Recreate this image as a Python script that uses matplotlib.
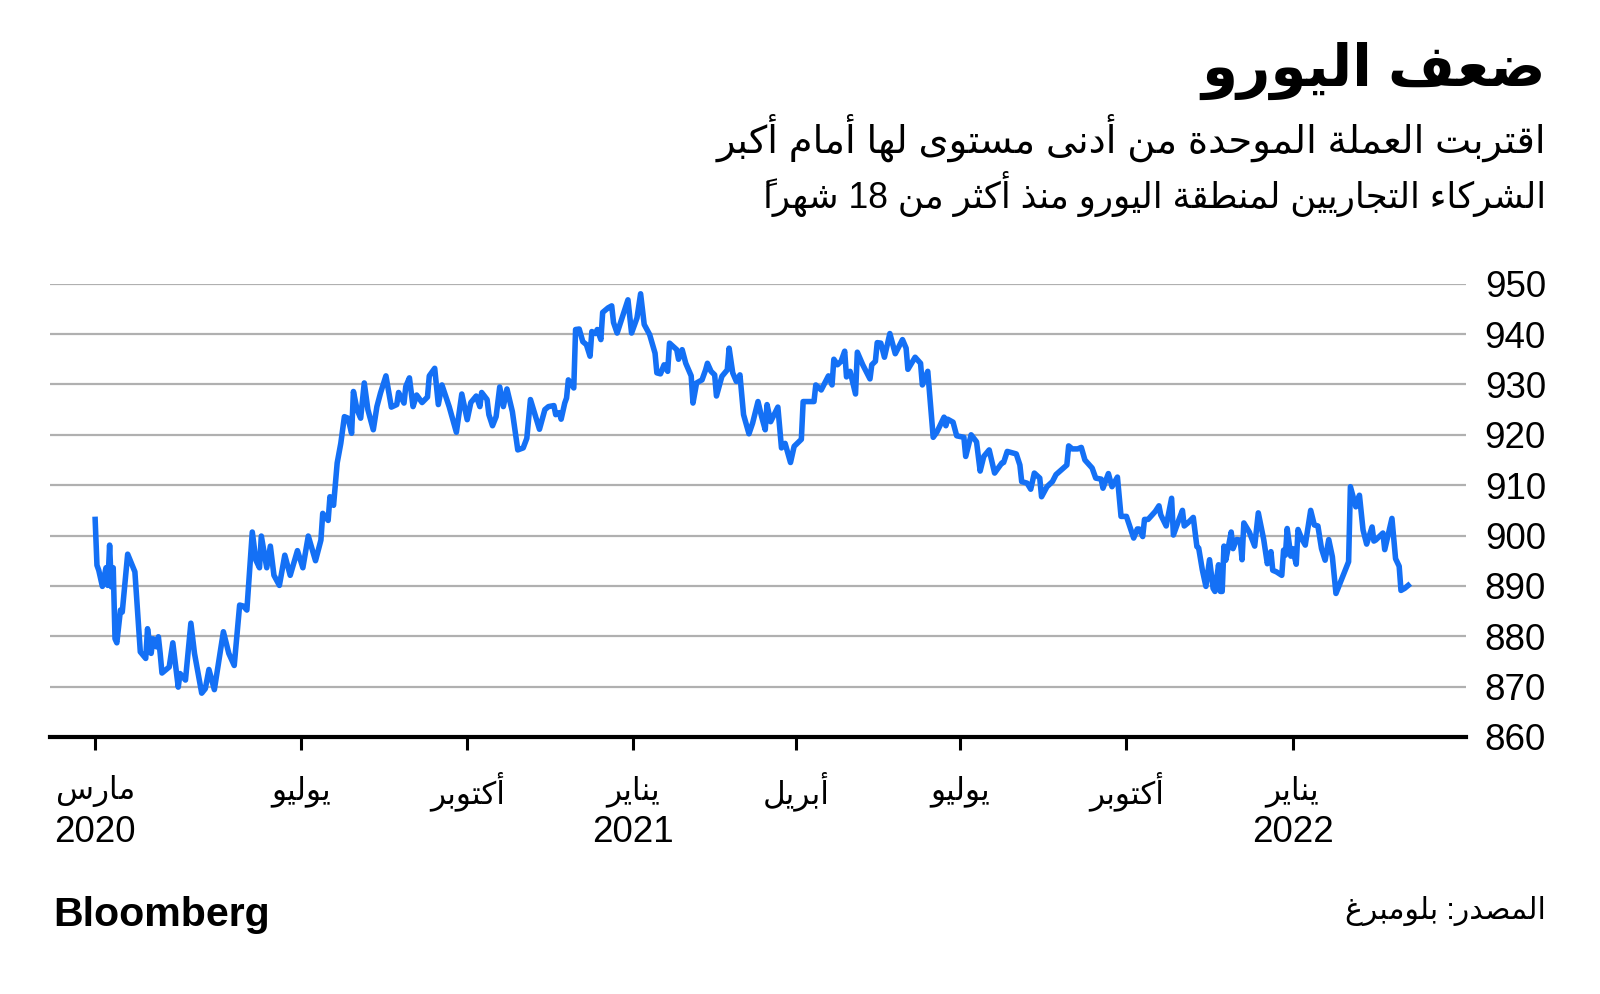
import numpy as np
import matplotlib
matplotlib.use('Agg')
import matplotlib.pyplot as plt

# --- minimal arabic shaping (matplotlib has no bidi / joining support) ---
# letter -> (isolated form code, dual joining?)  None = never joins
FORMS = {
    'ء': (0xFE80, None), 'آ': (0xFE81, False), 'أ': (0xFE83, False), 'إ': (0xFE87, False),
    'ا': (0xFE8D, False), 'ب': (0xFE8F, True), 'ة': (0xFE93, False), 'ت': (0xFE95, True),
    'ث': (0xFE99, True), 'ج': (0xFE9D, True), 'ح': (0xFEA1, True), 'خ': (0xFEA5, True),
    'د': (0xFEA9, False), 'ذ': (0xFEAB, False), 'ر': (0xFEAD, False), 'ز': (0xFEAF, False),
    'س': (0xFEB1, True), 'ش': (0xFEB5, True), 'ص': (0xFEB9, True), 'ض': (0xFEBD, True),
    'ط': (0xFEC1, True), 'ظ': (0xFEC5, True), 'ع': (0xFEC9, True), 'غ': (0xFECD, True),
    'ف': (0xFED1, True), 'ق': (0xFED5, True), 'ك': (0xFED9, True), 'ل': (0xFEDD, True),
    'م': (0xFEE1, True), 'ن': (0xFEE5, True), 'ه': (0xFEE9, True), 'و': (0xFEED, False),
    'ى': (0xFEEF, False), 'ي': (0xFEF1, True),
}
LAMALEF = {'آ': 0xFEF5, 'أ': 0xFEF7, 'إ': 0xFEF9, 'ا': 0xFEFB}


def shape(text):
    out = []
    i = 0
    n = len(text)
    while i < n:
        c = text[i]
        if c not in FORMS:
            out.append(c)
            i += 1
            continue
        base, dual = FORMS[c]
        prev = text[i - 1] if i > 0 else ''
        nxt = text[i + 1] if i + 1 < n else ''
        jp = dual is not None and prev in FORMS and FORMS[prev][1] is True
        if c == 'ل' and nxt in LAMALEF:
            out.append(chr(LAMALEF[nxt] + (1 if jp else 0)))
            i += 2
            continue
        jn = dual is True and nxt in FORMS and FORMS[nxt][1] is not None
        if dual is None:
            code = base
        elif jp and jn:
            code = base + 3
        elif jn:
            code = base + 2
        elif jp:
            code = base + 1
        else:
            code = base
        out.append(chr(code))
        i += 1
    return ''.join(out)


def ar(text):
    # reverse for display, keeping digit runs left to right
    tokens = []
    for ch in shape(text):
        if tokens and ch.isdigit() and tokens[-1][-1].isdigit():
            tokens[-1] += ch
        else:
            tokens.append(ch)
    return ''.join(reversed(tokens))


# --- data (trade-weighted euro index) ---
start = np.datetime64('2020-03-09')
day = [0, 1, 2, 4, 6, 7, 8, 9, 10, 11, 12, 14, 15, 18, 22, 25, 28, 29, 31, 32,
       34, 35, 36, 37, 41, 43, 46, 47, 50, 53, 55, 59, 61, 63, 66, 71, 74, 77, 80, 82,
       84, 87, 89, 91, 92, 95, 97, 99, 102, 105, 108, 112, 115, 118, 122, 125, 126, 129, 130, 132,
       134, 136, 138, 140, 142, 143, 145, 147, 149, 151, 154, 156, 158, 161, 164, 167, 168, 171, 172, 174,
       176, 178, 181, 184, 185, 188, 190, 192, 196, 200, 203, 206, 208, 211, 213, 214, 217, 218, 220, 222,
       224, 226, 228, 231, 234, 237, 239, 241, 246, 249, 251, 254, 255, 257,
       258, 260, 261, 262, 265, 266, 268, 270, 272, 274, 275, 277, 278, 280, 281, 284, 286, 287, 289, 292,
       295, 297, 300, 302, 304, 307, 310, 311, 313, 315, 317, 318, 322, 323, 325, 327, 330, 331, 333, 336,
       338, 339, 341, 343, 344, 347, 350, 351, 353, 355, 357, 359, 362, 364, 367, 369, 371, 372, 374, 378,
       380, 382, 385, 387, 391,
       392, 398, 399, 402, 406, 408, 409, 411, 413, 415, 416, 418, 421, 422, 425, 429, 430, 432, 433, 435,
       437, 440, 443, 447, 449, 450, 454, 457, 458, 461, 464, 466, 470, 471, 472, 475, 477, 481, 482, 485,
       488, 490, 492, 495, 498, 502, 503, 505, 510, 512, 513, 516, 518, 520, 523, 524,
       527, 530, 532, 538, 539, 541, 544, 546, 548, 552, 554, 557, 558, 561, 563, 566, 568, 571, 575, 577,
       578, 580, 581, 583, 587, 589, 590, 593, 596, 597, 600, 602, 603, 605, 608, 610, 611, 613, 615, 617,
       619, 620, 622, 623, 624,
       625, 626, 629, 630, 632, 634, 635, 636, 639, 642, 644, 647, 649, 651, 652, 654, 657, 658, 659, 660,
       662, 663, 665, 666, 668, 670, 673, 675, 677, 679, 681, 683, 685, 687, 694, 695, 698, 700, 702, 704,
       707, 708, 709, 713, 714, 718, 720, 722, 723, 725, 727]
index_val = [903.2, 894.1, 893.1, 889.9, 893.6, 890.1, 898.1, 889.8, 893.6, 879.5,
             878.7, 885.2, 884.8, 896.3, 892.8, 876.9, 875.6, 881.5, 876.6, 879.5,
             877.9, 879.9, 876.6, 872.7, 873.9, 878.7, 869.9, 872.6, 871.3, 882.6,
             876.6, 868.7, 869.6, 873.4, 869.4, 880.9, 876.6, 874.2, 886.2, 886.0,
             885.2, 900.7, 895.1, 893.6, 899.9, 893.6, 897.9, 892.1, 890.1, 896.1,
             892.1, 897.0, 893.6, 899.9, 895.0, 899.1, 904.4, 903.0, 907.7, 906.0,
             914.4, 918.3, 923.6, 923.3, 920.3, 928.6, 925.0, 923.3, 930.3, 925.0,
             921.0, 925.6, 928.3, 931.7, 925.5, 926.0, 928.4, 926.3, 929.6, 931.3,
             925.6, 927.9, 926.4, 927.5, 931.7, 933.2, 926.0, 929.9, 925.6, 920.5,
             928.1, 923.0, 926.4, 927.7, 925.6, 928.4, 927.0, 924.0, 921.8, 923.6,
             929.5, 925.6, 929.1, 924.6, 917.0, 917.4, 919.3, 927.0, 921.1, 925.0,
             925.6, 925.8, 924.0, 924.4,
             923.1, 926.3, 927.3, 930.9, 929.3, 940.9, 941.0, 938.5, 937.9, 935.6,
             940.5, 940.1, 940.9, 938.9, 944.3, 945.2, 945.6, 942.3, 940.2, 943.5,
             946.8, 940.2, 943.2, 948.0, 941.9, 939.9, 936.2, 932.3, 932.1, 933.9,
             932.6, 938.2, 936.9, 935.0, 936.9, 934.2, 931.7, 926.3, 930.3, 930.9,
             932.9, 934.2, 932.6, 931.9, 927.7, 931.6, 932.9, 937.2, 932.3, 930.6,
             931.9, 924.0, 920.2, 922.3, 926.6, 923.6, 921.0, 926.0, 922.6, 925.5,
             917.4, 918.3, 914.5, 917.7, 919.1,
             926.6, 926.6, 929.9, 928.9, 931.7, 929.9, 935.0, 933.9, 934.6, 936.6,
             931.5, 932.6, 928.1, 936.4, 933.9, 931.1, 933.9, 934.6, 938.3, 938.2,
             935.4, 940.1, 936.1, 938.9, 937.2, 933.0, 935.4, 934.2, 929.9, 932.6,
             919.5, 920.5, 923.5, 921.8, 923.1, 922.5, 919.8, 919.5, 915.7, 920.0,
             918.6, 912.8, 915.7, 917.0, 912.4, 914.4, 914.5, 916.7, 916.2, 914.0,
             910.7, 910.4, 909.2, 912.4, 911.4, 907.7,
             909.7, 910.7, 912.1, 914.0, 917.8, 917.2, 917.2, 917.5, 915.0, 913.4,
             911.4, 911.2, 909.4, 912.3, 909.7, 911.6, 903.8, 903.8, 899.5, 901.3,
             901.3, 899.8, 903.2, 903.2, 904.8, 905.9, 904.1, 901.9, 907.4, 900.1,
             903.1, 905.0, 901.9, 902.5, 903.6, 897.8, 897.5, 893.2, 889.9, 895.2,
             889.5, 888.9, 894.2, 888.9, 888.9,
             897.9, 895.1, 900.7, 897.4, 899.2, 899.1, 895.2, 902.5, 900.7, 897.9,
             904.5, 899.2, 894.4, 896.8, 893.1, 892.8, 892.1, 897.1, 896.1, 901.4,
             895.9, 897.4, 894.3, 901.2, 899.4, 898.1, 905.0, 902.1, 901.9, 897.4,
             895.1, 899.2, 895.8, 888.5, 894.8, 909.7, 905.7, 908.0, 901.1, 898.3,
             901.7, 898.9, 899.1, 900.5, 897.2, 903.4, 895.4, 893.9, 889.1, 889.5,
             890.1]

tick_dates = ['2020-03-09', '2020-07-01', '2020-10-01', '2021-01-01',
              '2021-04-01', '2021-07-01', '2021-10-01', '2022-01-01']
tick_months = ['مارس', 'يوليو', 'أكتوبر', 'يناير', 'أبريل', 'يوليو', 'أكتوبر', 'يناير']
tick_years = ['2020', '', '', '2021', '', '', '', '2022']
y_ticks = [860, 870, 880, 890, 900, 910, 920, 930, 940, 950]

title = 'ضعف اليورو'
subtitle = ['اقتربت العملة الموحدة من أدنى مستوى لها أمام أكبر',
            'الشركاء التجاريين لمنطقة اليورو منذ أكثر من 18 شهراً']
source = 'المصدر: بلومبرغ'

BLUE = '#1470f5'
plt.rcParams['font.family'] = ['Liberation Sans', 'DejaVu Sans']

W, H = 1600, 994
fig = plt.figure(figsize=(16, 9.94), dpi=100, facecolor='white')
ax = fig.add_axes([50 / W, 1 - 737 / H, (1466 - 50) / W, (737 - 283.7) / H])

dates = start + np.array(day).astype('timedelta64[D]')
ax.plot(dates, index_val, color=BLUE, lw=4.0, zorder=3)

ax.set_ylim(860, 950)
ax.set_xlim(start - np.timedelta64(25, 'D'), start + np.timedelta64(759, 'D'))
ax.set_yticks(y_ticks)
ax.grid(axis='y', color='#b0b0b0', lw=1.6)
ax.set_axisbelow(True)
for s in ['top', 'left', 'right']:
    ax.spines[s].set_visible(False)
ax.spines['bottom'].set_linewidth(3)
ax.spines['bottom'].set_zorder(4)

ax.yaxis.tick_right()
ax.tick_params(axis='y', length=0, pad=57.6, labelsize=26.5)
for lbl in ax.get_yticklabels():
    lbl.set_horizontalalignment('right')

ax.set_xticks(np.array(tick_dates, dtype='datetime64[D]'))
ax.set_xticklabels([])
ax.tick_params(axis='x', length=9.5, width=2.2, color='black')

tr = ax.get_xaxis_transform()
month_txt = []
for d, m, y in zip(tick_dates, tick_months, tick_years):
    xd = np.datetime64(d)
    month_txt.append(ax.text(xd, -0.119, ar(m), transform=tr, ha='center', va='center',
                             fontsize=24, clip_on=False))
    if y:
        ax.text(xd, -0.2096, y, transform=tr, ha='center', va='center',
                fontsize=26.5, clip_on=False)

t_title = fig.text(1546 / W, 1 - 71 / H, ar(title), ha='right', va='center',
                   fontsize=40, fontweight='bold')
t_sub1 = fig.text(1546 / W, 1 - 138 / H, ar(subtitle[0]), ha='right', va='center', fontsize=24)
t_sub2 = fig.text(1546 / W, 1 - 194 / H, ar(subtitle[1]), ha='right', va='center', fontsize=24)
t_src = fig.text(1546 / W, 1 - 911 / H, ar(source), ha='right', va='center', fontsize=20)
t_logo = fig.text(53 / W, 1 - 915 / H, 'Bloomberg', ha='left', va='center',
                  fontsize=29.5, fontweight='bold', family='Liberation Sans')

# scale texts so their widths match the reference
r = fig.canvas.get_renderer()


def fit(t, width_px):
    w = t.get_window_extent(r).width
    t.set_fontsize(t.get_fontsize() * width_px / w)


fit(t_title, 344)
fit(t_sub1, 832)
fit(t_sub2, 789)
fit(t_src, 201)
fit(t_logo, 217)
fit(month_txt[2], 75)
for t in month_txt:
    t.set_fontsize(month_txt[2].get_fontsize())

fig.savefig('out.png', dpi=100, facecolor='white')
